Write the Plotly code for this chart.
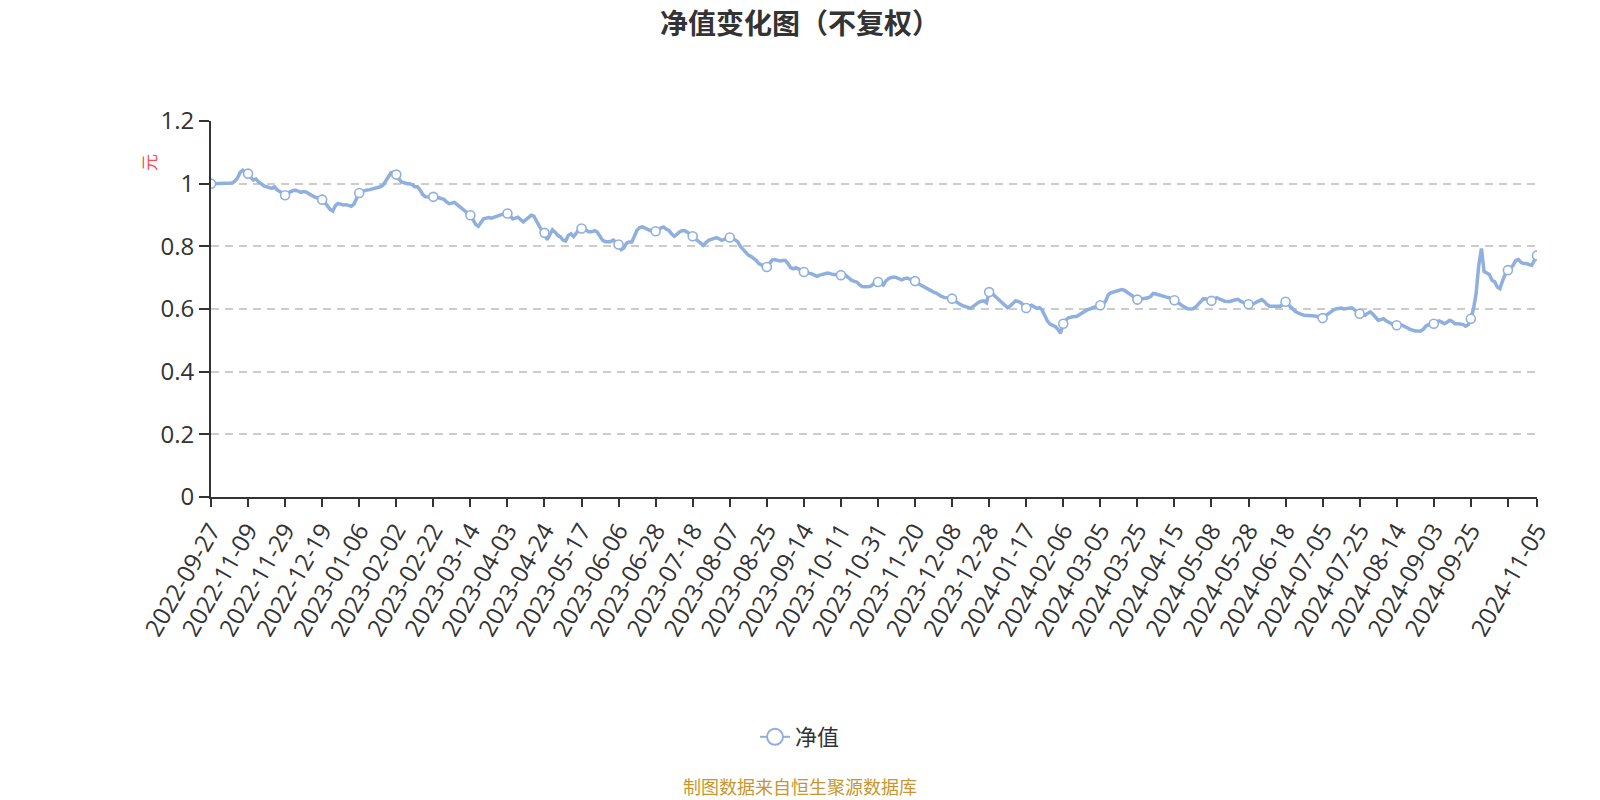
import plotly.graph_objects as go

# 净值 (不复权), one value per trading day, rows of 14 days (one row per x label)
nav = [
    1.0, 1.0, 1.0, 1.0, 1.0, 1.0, 1.0, 1.0, 1.002, 1.008, 1.018, 1.036, 1.043, 1.036,
    1.032, 1.02, 1.012, 1.015, 1.005, 1.0, 0.993, 0.99, 0.988, 0.985, 0.99, 0.98, 0.975, 0.97,
    0.963, 0.97, 0.975, 0.978, 0.979, 0.975, 0.972, 0.975, 0.973, 0.968, 0.962, 0.958, 0.955, 0.953,
    0.949, 0.94, 0.93, 0.918, 0.913, 0.93, 0.937, 0.935, 0.932, 0.933, 0.93, 0.928, 0.935, 0.955,
    0.97, 0.975, 0.978, 0.98, 0.981, 0.983, 0.985, 0.986, 0.99, 0.995, 1.01, 1.025, 1.035, 1.036,
    1.029, 1.015, 1.005, 1.003, 1.0, 1.0, 0.997, 0.99, 0.99, 0.98, 0.965, 0.958, 0.958, 0.958,
    0.958, 0.957, 0.955, 0.953, 0.95, 0.942, 0.936, 0.938, 0.94, 0.933, 0.926, 0.918, 0.91, 0.903,
    0.899, 0.885, 0.87, 0.864, 0.875, 0.888, 0.89, 0.892, 0.89, 0.893, 0.896, 0.9, 0.903, 0.905,
    0.905, 0.895, 0.888, 0.89, 0.893, 0.885, 0.878, 0.885, 0.893, 0.899, 0.896, 0.883, 0.865, 0.85,
    0.843, 0.821, 0.84, 0.853, 0.845, 0.835, 0.83, 0.82, 0.817, 0.835, 0.84, 0.831, 0.842, 0.852,
    0.857, 0.853, 0.848, 0.846, 0.847, 0.85, 0.845, 0.83, 0.819, 0.815, 0.814, 0.815, 0.82, 0.812,
    0.806, 0.79, 0.795, 0.81, 0.814, 0.814, 0.83, 0.852, 0.86, 0.862, 0.858, 0.853, 0.85, 0.852,
    0.848, 0.855, 0.86, 0.862, 0.855, 0.851, 0.84, 0.832, 0.838, 0.846, 0.85, 0.85, 0.845, 0.838,
    0.832, 0.825, 0.819, 0.81, 0.803, 0.812, 0.819, 0.822, 0.826, 0.828, 0.824, 0.819, 0.822, 0.826,
    0.828, 0.826, 0.822, 0.815, 0.8, 0.79, 0.78, 0.772, 0.768, 0.762, 0.755, 0.745, 0.74, 0.736,
    0.734, 0.745, 0.756, 0.758, 0.755, 0.753, 0.755, 0.755, 0.745, 0.732, 0.728, 0.732, 0.728, 0.722,
    0.718, 0.716, 0.715, 0.712, 0.708, 0.704, 0.708, 0.711, 0.714, 0.715, 0.713, 0.71, 0.71, 0.709,
    0.708, 0.713, 0.705, 0.698, 0.692, 0.688, 0.686, 0.678, 0.672, 0.671, 0.672, 0.672, 0.678, 0.686,
    0.686, 0.68, 0.676, 0.69, 0.697, 0.7, 0.702, 0.7, 0.697, 0.693, 0.697, 0.699, 0.695, 0.692,
    0.689, 0.682, 0.677, 0.672, 0.666, 0.662, 0.658, 0.654, 0.651, 0.645, 0.64, 0.637, 0.636, 0.634,
    0.633, 0.626, 0.619, 0.615, 0.611, 0.609, 0.605, 0.602, 0.608, 0.617, 0.621, 0.625, 0.626, 0.62,
    0.654, 0.65, 0.644, 0.635, 0.627, 0.62, 0.612, 0.604, 0.61, 0.62, 0.626, 0.624, 0.62, 0.612,
    0.603, 0.608, 0.612, 0.607, 0.602, 0.604, 0.597, 0.58, 0.562, 0.552, 0.548, 0.544, 0.535, 0.523,
    0.553, 0.565, 0.572, 0.575, 0.576, 0.576, 0.582, 0.587, 0.592, 0.597, 0.6, 0.604, 0.607, 0.61,
    0.612, 0.615, 0.625, 0.645, 0.652, 0.655, 0.658, 0.66, 0.662, 0.66, 0.655, 0.651, 0.643, 0.635,
    0.63, 0.631, 0.632, 0.633, 0.636, 0.64, 0.65, 0.648, 0.645, 0.642, 0.64, 0.638, 0.636, 0.632,
    0.628, 0.622, 0.617, 0.61, 0.604, 0.601, 0.6, 0.601, 0.606, 0.615, 0.625, 0.633, 0.632, 0.629,
    0.626, 0.632, 0.636, 0.632, 0.628, 0.625, 0.624, 0.624, 0.627, 0.63, 0.631, 0.625, 0.62, 0.617,
    0.615, 0.617, 0.617, 0.622, 0.626, 0.63, 0.624, 0.614, 0.609, 0.609, 0.609, 0.609, 0.609, 0.615,
    0.623, 0.614, 0.604, 0.598, 0.59, 0.585, 0.583, 0.58, 0.58, 0.58, 0.58, 0.578, 0.576, 0.573,
    0.571, 0.578, 0.585, 0.59, 0.596, 0.6, 0.602, 0.603, 0.6, 0.602, 0.603, 0.604, 0.598, 0.59,
    0.585, 0.583, 0.58, 0.586, 0.591, 0.583, 0.572, 0.564, 0.566, 0.569, 0.562, 0.556, 0.553, 0.55,
    0.548, 0.548, 0.548, 0.545, 0.54, 0.535, 0.532, 0.53, 0.53, 0.529, 0.535, 0.545, 0.55, 0.552,
    0.553, 0.558, 0.562, 0.558, 0.553, 0.558, 0.564, 0.56, 0.553, 0.553, 0.552, 0.551, 0.545, 0.55,
    0.569, 0.6, 0.65, 0.74, 0.793, 0.72, 0.715, 0.71, 0.692, 0.687, 0.67, 0.665, 0.69, 0.712,
    0.724, 0.73, 0.74, 0.755, 0.758, 0.748, 0.745, 0.745, 0.742, 0.74, 0.755, 0.771,
]

# x labels every 14 trading days, the one before the last is hidden
tick_labels = [
    "2022-09-27", "2022-11-09", "2022-11-29", "2022-12-19", "2023-01-06", "2023-02-02",
    "2023-02-22", "2023-03-14", "2023-04-03", "2023-04-24", "2023-05-17", "2023-06-06",
    "2023-06-28", "2023-07-18", "2023-08-07", "2023-08-25", "2023-09-14", "2023-10-11",
    "2023-10-31", "2023-11-20", "2023-12-08", "2023-12-28", "2024-01-17", "2024-02-06",
    "2024-03-05", "2024-03-25", "2024-04-15", "2024-05-08", "2024-05-28", "2024-06-18",
    "2024-07-05", "2024-07-25", "2024-08-14", "2024-09-03", "2024-09-25", "",
    "2024-11-05",
]

line_col = "#8fb0de"
x_idx = list(range(len(nav)))
tick_idx = [k * 14 for k in range(len(tick_labels) - 1)] + [len(nav) - 1]

W, H = 1600, 800
ML, MR, MT, MB = 211, 63, 121, 303
plot_w = W - ML - MR
plot_h = H - MT - MB

fig = go.Figure()

fig.add_trace(go.Scatter(
    x=x_idx, y=nav, mode="lines", showlegend=False,
    line=dict(color=line_col, width=3.5), hoverinfo="skip"
))

# hollow circles at labelled points
fig.add_trace(go.Scatter(
    x=tick_idx, y=[nav[i] for i in tick_idx], mode="markers", showlegend=False,
    marker=dict(size=9, color="white", line=dict(color=line_col, width=1.6))
))

# legend entry only
fig.add_trace(go.Scatter(
    x=[None], y=[None], mode="lines+markers", name="净值",
    line=dict(color=line_col, width=2),
    marker=dict(size=16, color="white", line=dict(color=line_col, width=2))
))

fig.update_layout(
    width=W, height=H,
    margin=dict(l=ML, r=MR, t=MT, b=MB),
    plot_bgcolor="white", paper_bgcolor="white",
    font=dict(family="Open Sans, Noto Sans CJK SC", color="#333333"),
    title=dict(
        text="<b>净值变化图（不复权）</b>",
        x=0.5, xanchor="center", y=1 - 24 / H, yanchor="middle",
        font=dict(family="Noto Sans CJK SC", size=28, color="#333333")
    ),
    legend=dict(
        orientation="h", x=0.5, xanchor="center", xref="container",
        y=1 - 737 / H, yanchor="middle", yref="container",
        font=dict(family="Noto Sans CJK SC", size=22, color="#333333")
    ),
)

fig.update_xaxes(
    range=[0, len(nav) - 1],
    tickvals=tick_idx, ticktext=tick_labels, tickangle=-60,
    tickfont=dict(size=24, color="#333333"),
    showgrid=False, zeroline=False,
    showline=True, linecolor="#333333", linewidth=2,
    ticks="outside", ticklen=8, tickwidth=2, tickcolor="#333333"
)

fig.update_yaxes(
    range=[0, 1.2], dtick=0.2, tick0=0,
    tickfont=dict(size=24, color="#333333"),
    showgrid=True, gridcolor="#cccccc", gridwidth=1.5, griddash="8px,6px",
    zeroline=False,
    showline=True, linecolor="#333333", linewidth=2,
    ticks="outside", ticklen=10, tickwidth=2, tickcolor="#333333"
)

# unit name of the y axis
fig.add_annotation(
    text="元", xref="paper", yref="paper",
    x=(148.5 - ML) / plot_w, y=(MT + plot_h - 162.5) / plot_h,
    xanchor="center", yanchor="middle",
    showarrow=False, textangle=-90,
    font=dict(family="Noto Sans CJK SC", size=17, color="#ff4d4d")
)

# source note
fig.add_annotation(
    text="制图数据来自恒生聚源数据库", xref="paper", yref="paper",
    x=(800 - ML) / plot_w, y=(MT + plot_h - 786) / plot_h,
    xanchor="center", yanchor="middle",
    showarrow=False,
    font=dict(family="Noto Sans CJK SC", size=18, color="#c8962f")
)

# drop the default 8px body margin so the figure fills the window exactly
fig.write_html("out.html", config={"displayModeBar": False},
               post_script="document.body.style.margin = '0px';")
